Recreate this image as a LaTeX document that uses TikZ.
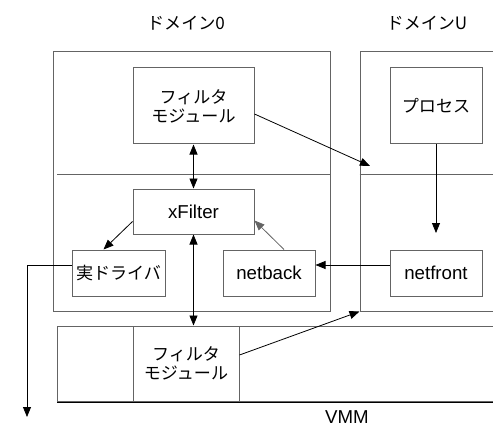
\documentclass[tikz,border=0pt]{standalone}
\usepackage{fontspec}
\setmainfont{Liberation Sans}
\newfontfamily\jp{Noto Sans CJK JP}
\usetikzlibrary{arrows.meta,calc}
\definecolor{boxgray}{RGB}{100,100,100}
\tikzset{
  blk/.style 2 args={draw=boxgray, line width=0.75, rectangle, inner sep=0pt, align=center,
    minimum width=#1*0.75pt, minimum height=#2*0.75pt},
  conn/.style={line width=0.6, -{Triangle[length=7.5pt,width=6pt]}},
  dconn/.style={line width=0.6, {Triangle[length=7.5pt,width=6pt]}-{Triangle[length=7.5pt,width=6pt]}},
  lat/.style={font=\fontsize{14}{16}\selectfont},
  ja/.style={font=\jp\fontsize{12.8}{14.3}\selectfont}
}
\begin{document}
\begin{tikzpicture}[x=0.75pt,y=0.75pt,yscale=-1,xscale=1]
\useasboundingbox (0,0) rectangle (493,428);

% Domains and VMM
\node [blk={277}{259}] (dom0) at (191.5,181.5) {};
\node [blk={180}{259}] (domU) at (450,181.5) {};
\node [blk={480}{75}, anchor=north west] (vmm) at (57,326) {};
\draw [boxgray, line width=0.75] (57,174) -- (dom0.east |- 0,174) ;
\draw [boxgray, line width=0.75] (domU.west |- 0,174) -- (540,174) ;
\draw (vmm.south west) -- (vmm.south east) ;

% Titles
\node [ja] (t0) at (186,23) {ドメイン0};
\node [ja] (tU) at (427,23) {ドメインU};
\node [lat] (tV) at (347,417) {VMM};

% Inner blocks
\node [blk={121}{76}, ja] (fm0) at (193.5,106) {フィルタ\\モジュール};
\node [blk={92}{76}, ja] (proc) at (436,106) {プロセス};
\node [blk={121}{45}, lat] (xf) at (193.5,211.5) {xFilter};
\node [blk={93}{46}, ja] (drv) at (118.5,273) {実ドライバ};
\node [blk={92}{46}, lat] (nb) at (269,273) {netback};
\node [blk={92}{46}, lat] (nf) at (436,273) {netfront};
\node [blk={106}{75}, ja] (vfm) at (186,363.5) {フィルタ\\モジュール};

% Free ends
\coordinate (uIn) at (370,166);
\coordinate (pOut) at (436,233);
\coordinate (wire) at (27,417);

% Connectors
\draw [conn] ($(fm0.east)+(0,8)$) -- (uIn) ;
\draw [dconn] (fm0.south) -- (xf.north) ;
\draw [conn] ($(xf.west)+(0,10)$) -- ($(drv.north)+(-15,0)$) ;
\draw [conn, draw=boxgray] ($(nb.north)+(15,0)$) -- ($(xf.east)+(0,9)$) ;
\draw [dconn] (xf.south) -- (xf.south |- vfm.north) ;
\draw [conn] ($(nf.west)+(0,-8)$) -- ($(nb.east)+(0,-8)$) ;
\draw [conn] (proc.south) -- (pOut) ;
\draw [conn] ($(drv.west)+(0,-8)$) -| (wire) ;
\draw [conn] ($(vfm.east)+(0,-8.5)$) -- (domU.south west) ;

\end{tikzpicture}
\end{document}
